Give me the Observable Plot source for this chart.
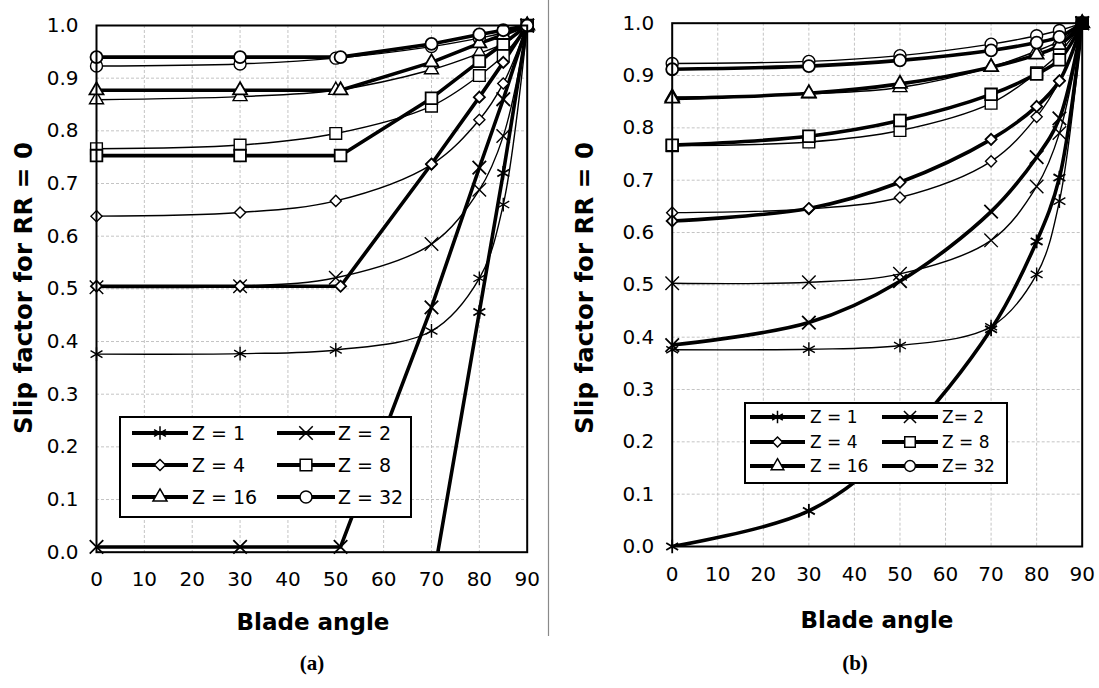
<!DOCTYPE html>
<html><head><meta charset="utf-8">
<script src="https://cdn.jsdelivr.net/npm/d3@7"></script>
<script src="https://cdn.jsdelivr.net/npm/@observablehq/plot@0.6"></script>
<style>
html,body{margin:0;padding:0;background:#fff;}
#wrap{position:relative;width:1099px;height:688px;overflow:hidden;background:#fff;}
#wrap svg{position:absolute;}
</style></head><body><div id="wrap"></div>
<script>
// ---------- data ----------
const zValues = [1, 2, 4, 8, 16, 32];
const zLabelsA = ["Z = 1", "Z = 2", "Z = 4", "Z = 8", "Z = 16", "Z = 32"];
const zLabelsB = ["Z = 1", "Z= 2", "Z = 4", "Z = 8", "Z = 16", "Z= 32"];
const symbolsByZ = ["asterisk", "times", "diamond2", "square", "triangle", "circle"];
const xTicks = [0, 10, 20, 30, 40, 50, 60, 70, 80, 90];
const yTicks = [0, 0.1, 0.2, 0.3, 0.4, 0.5, 0.6, 0.7, 0.8, 0.9, 1.0];

// thin lines (same in both panels)
const anglesThin = [0, 30, 50, 70, 80, 85, 90];
const thinZ1  = [0.376, 0.377, 0.384, 0.420, 0.520, 0.660, 1.0];
const thinZ2  = [0.503, 0.505, 0.521, 0.585, 0.688, 0.790, 1.0];
const thinZ4  = [0.638, 0.645, 0.667, 0.736, 0.821, 0.890, 1.0];
const thinZ8  = [0.766, 0.773, 0.795, 0.847, 0.905, 0.943, 1.0];
const thinZ16 = [0.859, 0.865, 0.877, 0.916, 0.947, 0.966, 1.0];
const thinZ32 = [0.923, 0.927, 0.938, 0.960, 0.976, 0.986, 1.0];

// thick lines, panel (a)
const anglesThickA = [0, 30, 51, 70, 80, 85, 90];
const thickAZ1  = [-1.0, -1.0, -1.0, -0.07, 0.456, 0.720, 1.0];
const thickAZ2  = [0.010, 0.010, 0.010, 0.465, 0.730, 0.860, 1.0];
const thickAZ4  = [0.505, 0.505, 0.505, 0.737, 0.864, 0.930, 1.0];
const thickAZ8  = [0.753, 0.753, 0.753, 0.862, 0.932, 0.965, 1.0];
const thickAZ16 = [0.877, 0.877, 0.877, 0.930, 0.966, 0.982, 1.0];
const thickAZ32 = [0.940, 0.940, 0.940, 0.965, 0.983, 0.991, 1.0];

// thick lines, panel (b)
const anglesThickB = [0, 30, 50, 70, 80, 85, 90];
const thickBZ1  = [0.000, 0.068, 0.200, 0.415, 0.583, 0.705, 1.0];
const thickBZ2  = [0.385, 0.428, 0.507, 0.640, 0.744, 0.818, 1.0];
const thickBZ4  = [0.622, 0.646, 0.696, 0.778, 0.841, 0.890, 1.0];
const thickBZ8  = [0.767, 0.784, 0.814, 0.864, 0.903, 0.930, 1.0];
const thickBZ16 = [0.856, 0.866, 0.884, 0.916, 0.940, 0.958, 1.0];
const thickBZ32 = [0.912, 0.918, 0.929, 0.948, 0.963, 0.974, 1.0];

// marker sizes per symbol (style)
const markerR = [6.5, 6.2, 5.0, 6.6, 5.2, 6.0];

// ---------- tables ----------
function rows(angles, seriesList) {
  const out = [];
  seriesList.forEach((vals, i) => vals.forEach((v, j) => out.push({x: angles[j], y: v, z: zValues[i]})));
  return out;
}
const thinRows = rows(anglesThin, [thinZ1, thinZ2, thinZ4, thinZ8, thinZ16, thinZ32]);
const thickARows = rows(anglesThickA, [thickAZ1, thickAZ2, thickAZ4, thickAZ8, thickAZ16, thickAZ32]);
const thickBRows = rows(anglesThickB, [thickBZ1, thickBZ2, thickBZ4, thickBZ8, thickBZ16, thickBZ32]);

const FONT = "DejaVu Sans, Liberation Sans, Arial, sans-serif";

function dotMarks(data, sw, blackEnd) {
  return zValues.map((z, i) => Plot.dot(data, {
    filter: d => d.z === z && d.y >= 0,
    x: "x", y: "y", symbol: () => symbolsByZ[i], r: markerR[i],
    stroke: "black", strokeWidth: sw,
    fill: d => (blackEnd && d.x === 90) ? "black" : "white"
  }));
}

function panel(cfg) {
  return Plot.plot({
    width: cfg.width, height: cfg.height,
    marginLeft: cfg.ml, marginRight: cfg.mr, marginTop: cfg.mt, marginBottom: cfg.mb,
    style: {fontFamily: FONT, fontSize: "20px", color: "black", background: "transparent", overflow: "visible"},
    x: {domain: [0, 90], ticks: xTicks, tickSize: 0, tickPadding: 20, label: null},
    y: {domain: [0, 1], ticks: yTicks, tickSize: 0, tickPadding: 18, tickFormat: d3.format(".1f"), label: null},
    symbol: {type: "identity"},
    marks: [
      Plot.gridX(xTicks, {stroke: "#c4c4c4", strokeOpacity: 1, strokeDasharray: "3,2"}),
      Plot.gridY(yTicks, {stroke: "#c4c4c4", strokeOpacity: 1, strokeDasharray: "3,2"}),
      Plot.line(thinRows, {x: "x", y: "y", z: "z", stroke: "black", strokeWidth: 1.4, curve: "catmull-rom", clip: true}),
      Plot.line(cfg.thick, {x: "x", y: "y", z: "z", stroke: "black", strokeWidth: 3.6, curve: cfg.thickCurve, clip: true}),
      ...dotMarks(thinRows, 1.4, cfg.blackEnd),
      ...dotMarks(cfg.thick, 1.8, cfg.blackEnd),
      Plot.frame({stroke: "black", strokeWidth: 2})
    ]
  });
}

const wrap = document.getElementById("wrap");

const plotA = panel({width: 548, height: 600, ml: 96, mr: 21.3, mt: 25, mb: 48.3,
  thick: thickARows, thickCurve: "linear", blackEnd: false});
plotA.style.left = "0px"; plotA.style.top = "0px";
wrap.appendChild(plotA);

const plotB = panel({width: 551, height: 600, ml: 123.7, mr: 17.3, mt: 22.7, mb: 54,
  thick: thickBRows, thickCurve: "catmull-rom", blackEnd: true});
plotB.style.left = "548px"; plotB.style.top = "0px";
wrap.appendChild(plotB);

// ---------- overlay: titles, legends, captions ----------
const ov = d3.select(wrap).append("svg")
  .attr("width", 1099).attr("height", 688)
  .style("left", "0px").style("top", "0px")
  .attr("font-family", FONT);

ov.append("line").attr("x1", 548.5).attr("x2", 548.5).attr("y1", 0).attr("y2", 636)
  .attr("stroke", "#8a8a8a").attr("stroke-width", 1.2);

function yTitle(cx, cy) {
  ov.append("text").attr("transform", `translate(${cx},${cy}) rotate(-90)`)
    .attr("text-anchor", "middle").attr("font-weight", "bold").attr("font-size", 24.5)
    .text("Slip factor for RR = 0");
}
yTitle(32, 288);
yTitle(593, 288);

function xTitle(cx, by) {
  ov.append("text").attr("x", cx).attr("y", by)
    .attr("text-anchor", "middle").attr("font-weight", "bold").attr("font-size", 23)
    .text("Blade angle");
}
xTitle(313, 630);
xTitle(877, 628);

function caption(cx, txt) {
  ov.append("text").attr("x", cx).attr("y", 670)
    .attr("text-anchor", "middle").attr("font-weight", "bold").attr("font-size", 21)
    .attr("font-family", "Liberation Serif, Times New Roman, serif")
    .text(txt);
}
caption(312, "(a)");
caption(855, "(b)");

const symMap = {asterisk: d3.symbolAsterisk, times: d3.symbolTimes, diamond2: d3.symbolDiamond2,
  square: d3.symbolSquare, triangle: d3.symbolTriangle, circle: d3.symbolCircle};

function legend(L) {
  const g = ov.append("g");
  g.append("rect").attr("x", L.x).attr("y", L.y).attr("width", L.w).attr("height", L.h)
    .attr("fill", "white").attr("stroke", "black").attr("stroke-width", 2);
  zValues.forEach((z, i) => {
    const r = Math.floor(i / 2), c = i % 2;
    const cy = L.rows[r];
    const [x1, x2] = L.lines[c];
    g.append("line").attr("x1", x1).attr("x2", x2).attr("y1", cy).attr("y2", cy)
      .attr("stroke", "black").attr("stroke-width", 4);
    const mr = markerR[i] * L.scale;
    g.append("path").attr("transform", `translate(${(x1 + x2) / 2},${cy})`)
      .attr("d", d3.symbol(symMap[symbolsByZ[i]], Math.PI * mr * mr)())
      .attr("fill", "white").attr("stroke", "black").attr("stroke-width", 1.5);
    g.append("text").attr("x", L.tx[c]).attr("y", cy).attr("dy", "0.36em")
      .attr("font-size", L.fs).text(L.labels[i]);
  });
}
legend({x: 120, y: 417, w: 291, h: 100, rows: [433, 465, 497], lines: [[132, 188], [277, 335]],
  tx: [192, 338], fs: 19, scale: 1.0, labels: zLabelsA});
legend({x: 745, y: 403, w: 262, h: 80, rows: [417, 442, 466], lines: [[750, 805], [882, 938]],
  tx: [810, 942], fs: 17, scale: 0.9, labels: zLabelsB});
</script>
</body></html>
